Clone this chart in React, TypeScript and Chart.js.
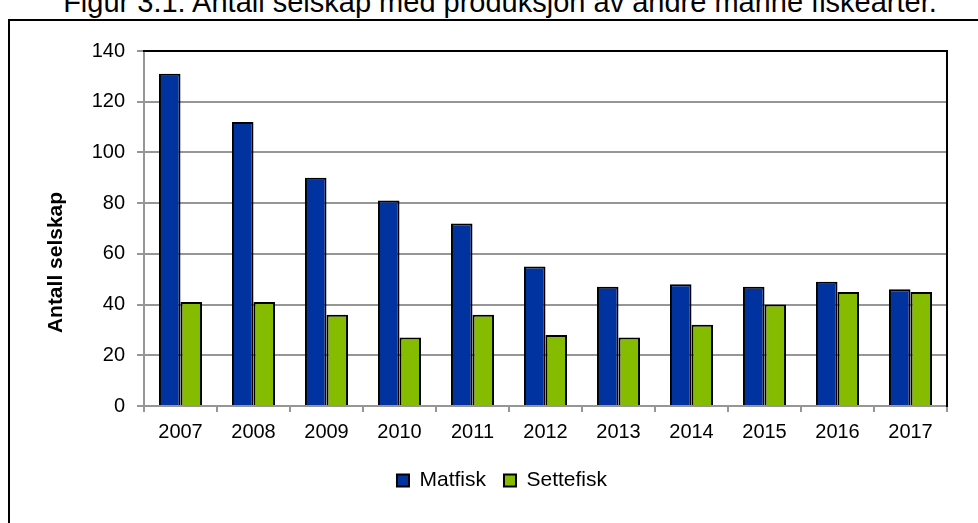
import React, { useEffect, useRef } from "react";
import { Chart, registerables } from "chart.js";

Chart.register(...registerables);

const titleText = "Figur 3.1: Antall selskap med produksjon av andre marine fiskearter.";
const yAxisTitle = "Antall selskap";
const years = ["2007", "2008", "2009", "2010", "2011", "2012", "2013", "2014", "2015", "2016", "2017"];
const seriesNames = ["Matfisk", "Settefisk"];
const matfisk = [131, 112, 90, 81, 72, 55, 47, 48, 47, 49, 46];
const settefisk = [41, 41, 36, 27, 36, 28, 27, 32, 40, 45, 45];
const yMin = 0;
const yMax = 140;
const yStep = 20;

const FONT = "'Liberation Sans', Arial, Helvetica, sans-serif";
const GRID = "#969696";
const BLUE = "#0033A0";
const GREEN = "#85BC00";

const yTitlePlugin = {
  id: "yTitleCustom",
  afterDraw(chart: any) {
    const { ctx, chartArea } = chart;
    ctx.save();
    ctx.translate(chartArea.left - 88, (chartArea.top + chartArea.bottom) / 2 + 34);
    ctx.rotate(-Math.PI / 2);
    ctx.font = `bold 21px ${FONT}`;
    ctx.fillStyle = "#000";
    ctx.textAlign = "center";
    ctx.textBaseline = "middle";
    ctx.fillText(yAxisTitle, 0, 0);
    ctx.restore();
  },
};

export default function App() {
  const canvasRef = useRef<HTMLCanvasElement | null>(null);

  useEffect(() => {
    if (!canvasRef.current) return;
    Chart.defaults.font.family = FONT;
    Chart.defaults.color = "#000";
    const chart = new Chart(canvasRef.current, {
      type: "bar",
      data: {
        labels: years,
        datasets: [
          {
            label: seriesNames[0],
            data: matfisk,
            backgroundColor: BLUE,
            borderColor: "#000",
            borderWidth: 2,
            categoryPercentage: 0.59,
            barPercentage: 1.0,
          },
          {
            label: seriesNames[1],
            data: settefisk,
            backgroundColor: GREEN,
            borderColor: "#000",
            borderWidth: 2,
            categoryPercentage: 0.59,
            barPercentage: 1.0,
          },
        ],
      },
      options: {
        responsive: false,
        animation: false,
        devicePixelRatio: 1,
        layout: { padding: 0 },
        plugins: {
          title: { display: false },
          tooltip: { enabled: false },
          legend: {
            position: "bottom",
            labels: {
              boxWidth: 12,
              boxHeight: 12,
              padding: 18,
              color: "#000",
              font: { size: 21, family: FONT },
            },
          },
        },
        scales: {
          x: {
            type: "category",
            position: "bottom",
            grid: {
              offset: true,
              drawOnChartArea: false,
              drawTicks: true,
              tickLength: 6,
              color: GRID,
              lineWidth: 2,
            },
            border: { color: GRID, width: 2 },
            ticks: {
              color: "#000",
              font: { size: 20, family: FONT },
              padding: 8,
              maxRotation: 0,
              autoSkip: false,
            },
            afterFit: (s: any) => {
              s.height = 46;
            },
          },
          xTop: {
            type: "category",
            position: "top",
            grid: { display: false },
            ticks: { display: false },
            border: { display: true, color: "#000", width: 2, z: 1 },
            afterFit: (s: any) => {
              s.height = 30;
            },
          },
          y: {
            type: "linear",
            position: "left",
            min: yMin,
            max: yMax,
            grid: { color: GRID, lineWidth: 2, tickLength: 7, drawTicks: true },
            border: { color: GRID, width: 2 },
            ticks: {
              stepSize: yStep,
              color: "#000",
              font: { size: 20, family: FONT },
              padding: 12,
            },
            afterFit: (s: any) => {
              s.width = 134;
            },
          },
          yR: {
            type: "linear",
            position: "right",
            min: yMin,
            max: yMax,
            grid: { display: false },
            ticks: { display: false },
            border: { display: true, color: "#000", width: 2, z: 1 },
            afterFit: (s: any) => {
              s.width = 47;
            },
          },
        },
      } as any,
      plugins: [yTitlePlugin],
    });
    return () => chart.destroy();
  }, []);

  return (
    <div
      style={{
        position: "fixed",
        left: 0,
        top: 0,
        width: 978,
        height: 523,
        overflow: "hidden",
        background: "#fff",
      }}
    >
      <div
        style={{
          position: "absolute",
          left: 0,
          top: -12,
          width: 1000,
          height: 29,
          lineHeight: "29px",
          fontSize: 29,
          fontFamily: FONT,
          textAlign: "center",
          color: "#000",
          whiteSpace: "nowrap",
        }}
      >
        {titleText}
      </div>
      <div
        style={{
          position: "absolute",
          left: 8,
          top: 19,
          width: 988,
          height: 520,
          border: "2px solid #000",
          background: "#fff",
        }}
      >
        <canvas
          ref={canvasRef}
          width={984}
          height={480}
          style={{ display: "block", width: 984, height: 480 }}
        />
      </div>
    </div>
  );
}
